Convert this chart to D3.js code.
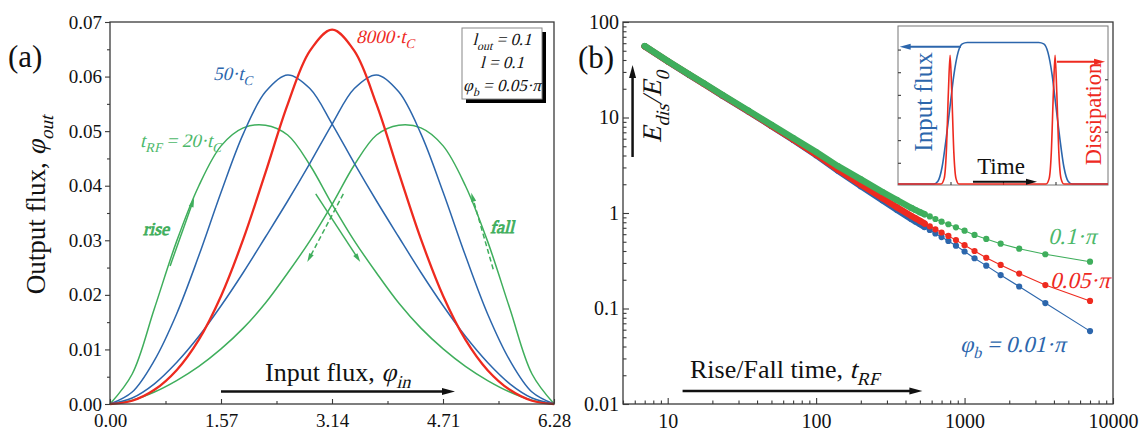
<!DOCTYPE html>
<html>
<head>
<meta charset="utf-8">
<script src="https://cdn.jsdelivr.net/npm/d3@7"></script>
<style>
body { margin: 0; background: #fff; }
svg { display: block; font-family: "Liberation Serif", "Times New Roman", serif; }
</style>
</head>
<body>
<svg width="1147" height="433"></svg>
<script>
// panel (a): output flux vs input flux
const phi = [0, 0.314, 0.628, 0.942, 1.257, 1.571, 1.885, 2.199, 2.513, 2.827, 3.142,
	3.456, 3.770, 4.084, 4.398, 4.712, 5.027, 5.341, 5.655, 5.969, 6.283];
const riseGreen = [0, 0.0055, 0.0175, 0.0298, 0.0400, 0.0473, 0.0506, 0.0511, 0.0493, 0.0438, 0.0366,
	0.0299, 0.0240, 0.0185, 0.0139, 0.0101, 0.0069, 0.0043, 0.0022, 0.0007, 0];
const riseBlue = [0, 0.0022, 0.0080, 0.0165, 0.0272, 0.0388, 0.0495, 0.0572, 0.0603, 0.0578, 0.0513,
	0.0441, 0.0372, 0.0306, 0.0241, 0.0180, 0.0124, 0.0076, 0.0037, 0.0011, 0];
const red8000 = [0, 0.0006, 0.0026, 0.0062, 0.0118, 0.0198, 0.0302, 0.0424, 0.0549, 0.0647, 0.0686,
	0.0647, 0.0549, 0.0424, 0.0302, 0.0198, 0.0118, 0.0062, 0.0026, 0.0006, 0];
const fallBlue = [0, 0.0011, 0.0037, 0.0076, 0.0124, 0.0180, 0.0241, 0.0306, 0.0372, 0.0441, 0.0513,
	0.0578, 0.0603, 0.0572, 0.0495, 0.0388, 0.0272, 0.0165, 0.0080, 0.0022, 0];
const fallGreen = [0, 0.0007, 0.0022, 0.0043, 0.0069, 0.0101, 0.0139, 0.0185, 0.0240, 0.0299, 0.0366,
	0.0438, 0.0493, 0.0511, 0.0506, 0.0473, 0.0400, 0.0298, 0.0175, 0.0055, 0];
const xTicksA = [0, 1.57, 3.14, 4.71, 6.28];
const xTickLabelsA = ["0.00", "1.57", "3.14", "4.71", "6.28"];
const yTicksA = [0, 0.01, 0.02, 0.03, 0.04, 0.05, 0.06, 0.07];

// panel (b): dissipated energy vs rise/fall time
const tRF = [7000, 3500, 2333, 1750, 1400, 1167, 1000, 875, 778, 700, 636, 583, 538, 500, 467, 438,
	350, 280, 200, 140, 100, 70, 50, 35, 23.3, 17.5, 14, 10, 7];
const edisGreen = [0.309, 0.370, 0.423, 0.477, 0.535, 0.589, 0.653, 0.708, 0.762, 0.811, 0.865, 0.92, 0.97, 1.02, 1.075, 1.13,
	1.37, 1.66, 2.25, 3.1, 4.35, 6.1, 8.4, 11.8, 17.3, 22.8, 28.2, 39, 56];
const edisRed = [0.120, 0.176, 0.232, 0.286, 0.340, 0.400, 0.460, 0.52, 0.575, 0.625, 0.675, 0.725, 0.775, 0.83, 0.88, 0.93,
	1.15, 1.43, 1.98, 2.85, 4.1, 5.9, 8.2, 11.6, 17.1, 22.6, 28.0, 38.8, 55.7];
const edisBlue = [0.058, 0.114, 0.170, 0.224, 0.281, 0.336, 0.395, 0.455, 0.51, 0.56, 0.61, 0.665, 0.715, 0.765, 0.815, 0.865,
	1.08, 1.36, 1.91, 2.78, 4.03, 5.85, 8.15, 11.55, 17.0, 22.5, 27.9, 38.7, 55.6];
const xTicksB = [10, 100, 1000, 10000];
const yTicksB = [0.01, 0.1, 1, 10, 100];

// inset: input flux and dissipation vs time
const insetFluxT = [0, 17, 19, 21, 23, 24.8, 26.6, 28.6, 30.6, 33, 67, 69.4, 71.4, 73.4, 75.2, 77, 79, 81, 83, 100];
const insetFlux = [0, 0, 0.02, 0.12, 0.33, 0.55, 0.77, 0.93, 0.99, 1, 1, 0.99, 0.93, 0.77, 0.55, 0.33, 0.12, 0.02, 0, 0];
const insetDisT = [0, 20.5, 22, 23, 24, 24.8, 25.6, 26.6, 27.6, 29, 70.5, 72, 73, 74, 74.8, 75.6, 76.6, 77.6, 79, 100];
const insetDis = [0, 0, 0.04, 0.22, 0.65, 0.91, 0.65, 0.22, 0.04, 0, 0, 0.04, 0.22, 0.65, 0.91, 0.65, 0.22, 0.04, 0, 0];

const BLUE = "#2c66ac", RED = "#ee2a1f", GREEN = "#3fae5c", GREEN_T = "#4cb86a", AX = "#3a3a3a";

const svg = d3.select("svg");

// text made of runs: flags i = italic (slanted), s = subscript, b = bold
function rich(sel, x, y, parts, size, color, anchor) {
	const g = sel.append("g").attr("fill", color);
	let cx = 0, prevItalic = false;
	for (const p of parts) {
		const f = p[1] || "";
		const it = f.includes("i"), sub = f.includes("s"), bold = f.includes("b");
		if (prevItalic && !it) cx += size * 0.06;
		const fs = sub ? size * 0.7 : size;
		const dy = sub ? size * 0.28 : 0;
		const t = g.append("text")
			.attr("font-size", fs)
			.attr("transform", `translate(${cx},${dy})` + (it ? " skewX(-14)" : ""))
			.text(p[0].replace(/ /g, "\u00a0"));
		if (bold) t.attr("stroke", color).attr("stroke-width", size * 0.045);
		cx += t.node().getComputedTextLength();
		prevItalic = it;
	}
	const shift = anchor === "middle" ? -cx / 2 : anchor === "end" ? -cx : 0;
	g.attr("transform", `translate(${x + shift},${y})`);
	return g;
}

function arrow(g, x1, y1, x2, y2, color, w, dash, hl, hw) {
	const a = Math.atan2(y2 - y1, x2 - x1);
	const bx = x2 - hl * Math.cos(a), by = y2 - hl * Math.sin(a);
	g.append("line")
		.attr("x1", x1).attr("y1", y1).attr("x2", bx + Math.cos(a)).attr("y2", by + Math.sin(a))
		.attr("stroke", color).attr("stroke-width", w)
		.attr("stroke-dasharray", dash || null);
	const px = -Math.sin(a) * hw / 2, py = Math.cos(a) * hw / 2;
	g.append("path")
		.attr("d", `M${x2},${y2}L${bx + px},${by + py}L${bx - px},${by - py}Z`)
		.attr("fill", color);
}

function styleAxis(g) {
	g.select(".domain").remove();
	g.selectAll("line").attr("stroke", AX).attr("stroke-width", 1.1);
	g.selectAll("text").attr("fill", "#111").attr("font-family", "Liberation Serif, serif");
}

// ---------- panel (a) ----------
const xa = d3.scaleLinear().domain([0, 6.28]).range([110, 554]);
const ya = d3.scaleLinear().domain([0, 0.07]).range([404, 22]);
const pa = svg.append("g");

pa.append("g").attr("transform", "translate(110,0)")
	.call(d3.axisLeft(ya).tickValues(yTicksA).tickFormat(d3.format(".2f")).tickSizeInner(5).tickSizeOuter(0).tickPadding(3))
	.attr("font-size", 19).call(styleAxis);
pa.append("g").attr("transform", "translate(110,0)")
	.call(d3.axisLeft(ya).tickValues(yTicksA.slice(0, -1).map(d => d + 0.005)).tickFormat("").tickSizeInner(3).tickSizeOuter(0))
	.call(styleAxis);
pa.append("g").attr("transform", "translate(0,404)")
	.call(d3.axisBottom(xa).tickValues(xTicksA).tickFormat((d, i) => xTickLabelsA[i]).tickSizeInner(-5).tickSizeOuter(0).tickPadding(10))
	.attr("font-size", 19).call(styleAxis);
pa.append("g").attr("transform", "translate(0,404)")
	.call(d3.axisBottom(xa).tickValues(xTicksA.slice(0, -1).map(d => d + 0.785)).tickFormat("").tickSizeInner(-3).tickSizeOuter(0))
	.call(styleAxis);

const lineA = d3.line().x((d, i) => xa(phi[i])).y(d => ya(d)).curve(d3.curveCatmullRom.alpha(0.5));
const seriesA = [
	{ v: riseGreen, c: GREEN, w: 1.5 },
	{ v: fallGreen, c: GREEN, w: 1.5 },
	{ v: riseBlue, c: BLUE, w: 1.5 },
	{ v: fallBlue, c: BLUE, w: 1.5 },
	{ v: red8000, c: RED, w: 2.3 },
];
pa.append("g").selectAll("path")
	.data(seriesA)
	.join("path")
	.attr("fill", "none")
	.attr("stroke", d => d.c)
	.attr("stroke-width", d => d.w)
	.attr("d", d => lineA(d.v));

pa.append("rect").attr("x", 110).attr("y", 22).attr("width", 444).attr("height", 382)
	.attr("fill", "none").attr("stroke", AX).attr("stroke-width", 1.3);

// direction arrows
arrow(pa, xa(0.85), ya(0.0253), xa(1.19), ya(0.0377), GREEN, 1.5, null, 9, 5);
arrow(pa, xa(2.91), ya(0.0385), xa(3.54), ya(0.0260), GREEN, 1.5, null, 9, 5);
arrow(pa, xa(3.30), ya(0.0385), xa(2.79), ya(0.0260), GREEN, 1.5, "5,3", 9, 5);
arrow(pa, xa(5.42), ya(0.0247), xa(5.11), ya(0.0387), GREEN, 1.5, "5,3", 9, 5);
rich(pa, 143, 235, [["rise", "ib"]], 18, GREEN);
rich(pa, 490, 233, [["fall", "ib"]], 18, GREEN);

// curve labels
rich(pa, 213, 80, [["50·t", "i"], ["C", "is"]], 19, BLUE);
rich(pa, 140, 147, [["t", "i"], ["RF", "is"], [" = 20·t", "i"], ["C", "is"]], 19, GREEN_T);
rich(pa, 356, 43, [["8000·t", "i"], ["C", "is"]], 19, RED);

// parameter box
pa.append("rect").attr("x", 466).attr("y", 32).attr("width", 80).attr("height", 71).attr("fill", "#000");
pa.append("rect").attr("x", 462).attr("y", 28).attr("width", 80).attr("height", 71)
	.attr("fill", "#fff").attr("stroke", "#888").attr("stroke-width", 1);
rich(pa, 502, 45, [["l", "i"], ["out", "is"], [" = 0.1", "i"]], 17, "#111", "middle");
rich(pa, 502, 68, [["l = 0.1", "i"]], 17, "#111", "middle");
rich(pa, 502, 91, [["φ", "i"], ["b", "is"], [" = 0.05·π", "i"]], 17, "#111", "middle");

// axis titles
rich(pa, 8, 67, [["(a)"]], 31, "#111");
rich(pa.append("g").attr("transform", "translate(45,205) rotate(-90)"), 0, 0,
	[["Output flux, "], ["φ", "i"], ["out", "is"]], 27, "#111", "middle");
rich(pa, 265, 381, [["Input flux, "], ["φ", "i"], ["in", "is"]], 26, "#111");
arrow(pa, xa(1.57), ya(0.0023), xa(4.88), ya(0.0023), "#111", 2.5, null, 13, 7);

// ---------- panel (b) ----------
const xb = d3.scaleLog().domain([5, 10000]).range([623, 1113]);
const yb = d3.scaleLog().domain([0.01, 100]).range([404, 22]);
const pb = svg.append("g");

const minorX = [], minorY = [];
for (const dec of [1, 10, 100, 1000]) for (let k = 2; k <= 9; k++) { if (dec * k >= 5) minorX.push(dec * k); }
for (const dec of [0.01, 0.1, 1, 10]) for (let k = 2; k <= 9; k++) minorY.push(dec * k);

pb.append("g").attr("transform", "translate(623,0)")
	.call(d3.axisLeft(yb).tickValues(yTicksB).tickFormat(d => String(d)).tickSizeInner(-6).tickSizeOuter(0).tickPadding(4))
	.attr("font-size", 20).call(styleAxis);
pb.append("g").attr("transform", "translate(623,0)")
	.call(d3.axisLeft(yb).tickValues(minorY).tickFormat("").tickSizeInner(-3.5).tickSizeOuter(0))
	.call(styleAxis);
pb.append("g").attr("transform", "translate(0,404)")
	.call(d3.axisBottom(xb).tickValues(xTicksB).tickFormat(d => String(d)).tickSizeInner(-6).tickSizeOuter(0).tickPadding(10))
	.attr("font-size", 20).call(styleAxis);
pb.append("g").attr("transform", "translate(0,404)")
	.call(d3.axisBottom(xb).tickValues(minorX).tickFormat("").tickSizeInner(-3.5).tickSizeOuter(0))
	.call(styleAxis);

const seriesB = [
	{ v: edisBlue, c: BLUE },
	{ v: edisRed, c: RED },
	{ v: edisGreen, c: GREEN },
];
const lineB = d3.line().x((d, i) => xb(tRF[i])).y(d => yb(d));
const bandB = d3.line().defined((d, i) => tRF[i] <= 560).x((d, i) => xb(tRF[i])).y(d => yb(d));
for (const s of seriesB) {
	const g = pb.append("g");
	g.append("path").attr("fill", "none").attr("stroke", s.c).attr("stroke-width", 1.1).attr("d", lineB(s.v));
	g.append("path").attr("fill", "none").attr("stroke", s.c).attr("stroke-width", 6.4)
		.attr("stroke-linecap", "round").attr("d", bandB(s.v));
	g.selectAll("circle")
		.data(s.v)
		.join("circle")
		.attr("cx", (d, i) => xb(tRF[i]))
		.attr("cy", d => yb(d))
		.attr("r", 3.1)
		.attr("fill", s.c);
}

pb.append("rect").attr("x", 623).attr("y", 22).attr("width", 490).attr("height", 382)
	.attr("fill", "none").attr("stroke", AX).attr("stroke-width", 1.3);

rich(pb, 1048, 244, [["0.1·π", "i"]], 23, GREEN_T);
rich(pb, 1050, 288, [["0.05·π", "i"]], 23, RED);
rich(pb, 960, 352, [["φ", "i"], ["b", "is"], [" = 0.01·π", "i"]], 23, BLUE);

rich(pb, 578, 68, [["(b)"]], 31, "#111");
rich(pb.append("g").attr("transform", "translate(661,107) rotate(-90)"), 0, 0,
	[["E", "i"], ["dis", "is"], ["/E", "i"], ["0", "is"]], 27, "#111", "middle");
arrow(pb, xb(5.8), yb(3.86), xb(5.8), yb(35.5), "#111", 2.5, null, 13, 7);
rich(pb, 690, 378, [["Rise/Fall time, "], ["t", "i"], ["RF", "is"]], 26, "#111");
arrow(pb, xb(12.6), yb(0.0137), xb(520), yb(0.0137), "#111", 2.5, null, 13, 7);

// ---------- inset ----------
const xi = d3.scaleLinear().domain([0, 100]).range([898, 1108]);
const yi = d3.scaleLinear().domain([0, 1]).range([184, 42.5]);
const ins = pb.append("g");
ins.append("rect").attr("x", 898).attr("y", 26).attr("width", 210).attr("height", 159)
	.attr("fill", "#fff").attr("stroke", "#777").attr("stroke-width", 1);
ins.append("g").attr("transform", "translate(898,0)")
	.call(d3.axisLeft(yi).tickValues([0.15, 0.31, 0.47, 0.63, 0.79, 0.95]).tickFormat("").tickSizeInner(-3).tickSizeOuter(0))
	.call(styleAxis);
ins.append("g").attr("transform", "translate(1108,0)")
	.call(d3.axisRight(yi).tickValues([0.37, 0.74]).tickFormat("").tickSizeInner(-3).tickSizeOuter(0))
	.call(styleAxis);
ins.append("g").attr("transform", "translate(0,185)")
	.call(d3.axisBottom(xi).tickValues([25, 50, 75]).tickFormat("").tickSizeInner(-3).tickSizeOuter(0))
	.call(styleAxis);

ins.append("path").attr("fill", "none").attr("stroke", BLUE).attr("stroke-width", 1.6)
	.attr("d", d3.line().x((d, i) => xi(insetFluxT[i])).y(d => yi(d)).curve(d3.curveMonotoneX)(insetFlux));
ins.append("path").attr("fill", "none").attr("stroke", RED).attr("stroke-width", 1.6)
	.attr("d", d3.line().x((d, i) => xi(insetDisT[i])).y(d => yi(d)).curve(d3.curveMonotoneX)(insetDis));

arrow(ins, xi(30), yi(0.97), xi(0.8), yi(0.97), BLUE, 2, null, 11, 6);
arrow(ins, xi(75.7), yi(0.864), xi(98.6), yi(0.864), RED, 2, null, 11, 6);
arrow(ins, xi(35.7), yi(0.016), xi(66.2), yi(0.016), "#111", 2, null, 11, 6);

rich(ins.append("g").attr("transform", "translate(932,102) rotate(-90)"), 0, 0,
	[["Input flux"]], 25, BLUE, "middle");
rich(ins.append("g").attr("transform", "translate(1101,114) rotate(-90)"), 0, 0,
	[["Dissipation"]], 22.5, RED, "middle");
rich(ins, 1001, 174, [["Time"]], 23, "#111", "middle");
</script>
</body>
</html>
